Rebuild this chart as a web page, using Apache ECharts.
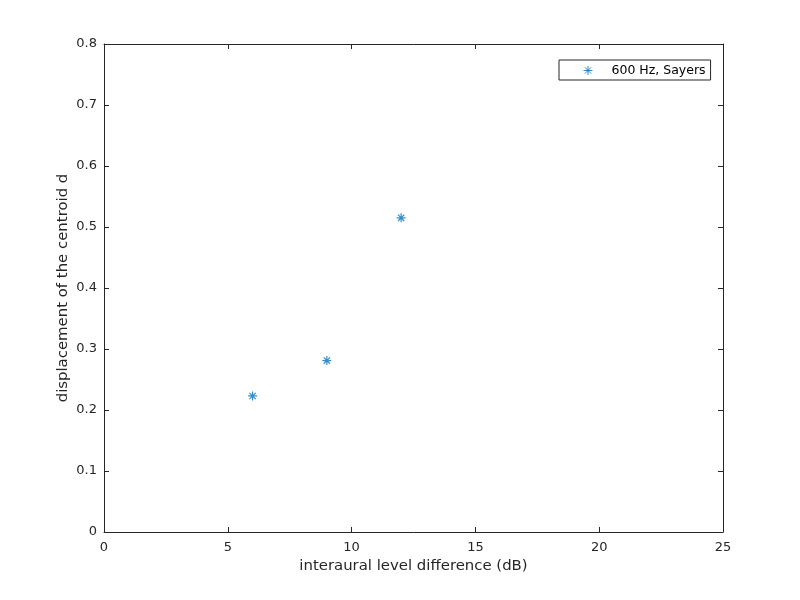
<!DOCTYPE html>
<html><head><meta charset="utf-8">
<script src="https://cdn.jsdelivr.net/npm/echarts@6/dist/echarts.min.js"></script>
<style>html,body{margin:0;padding:0;background:#fff}#c{width:800px;height:600px}</style>
</head><body><div id="c"></div>
<script>
const xValues = [6, 9, 12];
const yValues = [0.223, 0.281, 0.515];
const seriesName = '600 Hz, Sayers';
const xLabel = 'interaural level difference (dB)';
const yLabel = 'displacement of the centroid d';

const font = 'DejaVu Sans';
const star = 'path://M0,-1L0,1M-1,0L1,0M-0.7,-0.7L0.7,0.7M-0.7,0.7L0.7,-0.7';
const axisLine = {show: true, onZero: false, lineStyle: {color: '#262626', width: 1}};
const tick = {show: true, inside: true, length: 5, lineStyle: {color: '#262626'}};
const chart = echarts.init(document.getElementById('c'));
chart.setOption({
  animation: false,
  grid: {left: 104, right: 77, top: 44, bottom: 68, containLabel: false},
  legend: {
    left: 559, top: 60, width: 151,
    data: [{name: seriesName, icon: star}],
    borderColor: '#262626', borderWidth: 1, borderRadius: 0,
    padding: [4, 5, 3, 24], itemGap: 0, itemWidth: 9, itemHeight: 9,
    textStyle: {fontFamily: font, fontSize: 12.5, color: '#000', padding: [0, 0, 0, 14]},
    itemStyle: {color: 'transparent', borderColor: '#0072BD', borderWidth: 1}
  },
  xAxis: [{
    type: 'value', min: 0, max: 25, interval: 5,
    name: xLabel, nameLocation: 'middle', nameGap: 27,
    nameTextStyle: {fontFamily: font, fontSize: 14.9, color: '#262626'},
    axisLine, axisTick: tick, splitLine: {show: false},
    axisLabel: {fontFamily: font, fontSize: 13, color: '#262626', margin: 9}
  }, {
    type: 'value', min: 0, max: 25, interval: 5, position: 'top',
    axisLine, axisTick: tick, axisLabel: {show: false}, splitLine: {show: false}
  }],
  yAxis: [{
    type: 'value', min: 0, max: 0.8, interval: 0.1,
    name: yLabel, nameLocation: 'middle', nameGap: 33, nameMoveOverlap: false,
    nameTextStyle: {fontFamily: font, fontSize: 14.9, color: '#262626'},
    axisLine, axisTick: tick, splitLine: {show: false},
    axisLabel: {fontFamily: font, fontSize: 13, color: '#262626', margin: 7,
      formatter: v => String(Math.round(v * 10) / 10)}
  }, {
    type: 'value', min: 0, max: 0.8, interval: 0.1, position: 'right',
    axisLine, axisTick: tick, axisLabel: {show: false}, splitLine: {show: false}
  }],
  series: [{
    name: seriesName, type: 'scatter',
    data: xValues.map((x, i) => [x, yValues[i]]),
    symbol: star,
    symbolSize: 9,
    itemStyle: {color: 'transparent', borderColor: '#0072BD', borderWidth: 1.2}
  }]
});
</script></body></html>
